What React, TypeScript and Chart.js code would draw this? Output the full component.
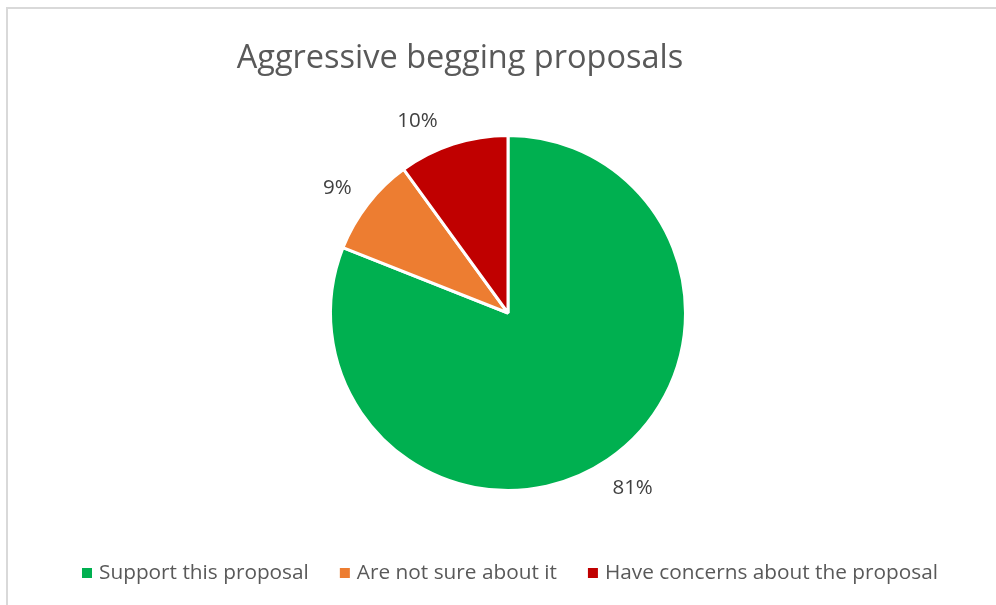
import React, { useEffect, useRef } from "react";
import { Chart, registerables } from "chart.js";

Chart.register(...registerables);

const TITLE = "Aggressive begging proposals";
const CATEGORIES = ["Support this proposal", "Are not sure about it", "Have concerns about the proposal"];
const VALUES = [81, 9, 10];
const COLORS = ["#00B050", "#ED7D31", "#C00000"];
const FONT = "'Open Sans', 'Noto Sans', sans-serif";

const framePlugin = {
  id: "frame",
  beforeDraw(chart: any) {
    const ctx = chart.ctx;
    ctx.save();
    ctx.fillStyle = "#ffffff";
    ctx.fillRect(0, 0, chart.width, chart.height);
    ctx.strokeStyle = "#d9d9d9";
    ctx.lineWidth = 2;
    ctx.strokeRect(7, 8, chart.width + 50, chart.height + 50);
    ctx.restore();
  },
};

// small per-label nudges (Excel best-fit placement)
const LABEL_NUDGE = [
  [0, 0],
  [0, 5],
  [-22, 9],
];

const textPlugin = {
  id: "texts",
  afterDatasetsDraw(chart: any) {
    const ctx = chart.ctx;
    const meta = chart.getDatasetMeta(0);
    const data = chart.data.datasets[0].data as number[];
    const total = data.reduce((a, b) => a + b, 0);
    ctx.save();
    // title
    ctx.fillStyle = "#595959";
    ctx.font = `32.5px ${FONT}`;
    ctx.textAlign = "center";
    ctx.textBaseline = "middle";
    ctx.fillText(TITLE, 460, 59);
    // data labels
    ctx.fillStyle = "#404040";
    ctx.font = `20.5px ${FONT}`;
    meta.data.forEach((arc: any, i: number) => {
      const mid = (arc.startAngle + arc.endAngle) / 2;
      const txt = Math.round((data[i] / total) * 100) + "%";
      const w = ctx.measureText(txt).width;
      const h = 20;
      const r = arc.outerRadius + 24;
      const cx = Math.cos(mid), cy = Math.sin(mid);
      const x = arc.x + cx * r + (cx * w) / 2 + LABEL_NUDGE[i][0];
      const y = arc.y + cy * r + (cy * h) / 2 + LABEL_NUDGE[i][1];
      ctx.fillText(txt, x, y);
    });
    // legend
    ctx.font = `20.8px ${FONT}`;
    ctx.textAlign = "left";
    const labels = chart.data.labels as string[];
    const box = 10, gap = 7, itemGap = 31;
    const widths = labels.map((l) => ctx.measureText(l).width);
    const totalW = widths.reduce((a, w) => a + box + gap + w, 0) + itemGap * (labels.length - 1);
    let x = 510 - totalW / 2;
    const y = 573;
    labels.forEach((l, i) => {
      ctx.fillStyle = COLORS[i];
      ctx.fillRect(x, y - box / 2, box, box);
      ctx.fillStyle = "#595959";
      ctx.fillText(l, x + box + gap, y);
      x += box + gap + widths[i] + itemGap;
    });
    ctx.restore();
  },
};

export default function App() {
  const ref = useRef<HTMLCanvasElement>(null);
  useEffect(() => {
    document.body.style.margin = "0";
    const chart = new Chart(ref.current!, {
      type: "pie",
      data: {
        labels: CATEGORIES,
        datasets: [
          {
            data: VALUES,
            backgroundColor: COLORS,
            borderColor: "#ffffff",
            borderWidth: 3,
          },
        ],
      },
      options: {
        responsive: false,
        animation: false,
        layout: { padding: { left: 329, right: 309, top: 134, bottom: 113 } },
        plugins: {
          legend: { display: false },
          title: { display: false },
          tooltip: { enabled: false },
        },
      },
      plugins: [framePlugin, textPlugin],
    });
    return () => chart.destroy();
  }, []);
  return (
    <div style={{ width: 996, height: 605 }}>
      <canvas ref={ref} width={996} height={605} />
    </div>
  );
}
